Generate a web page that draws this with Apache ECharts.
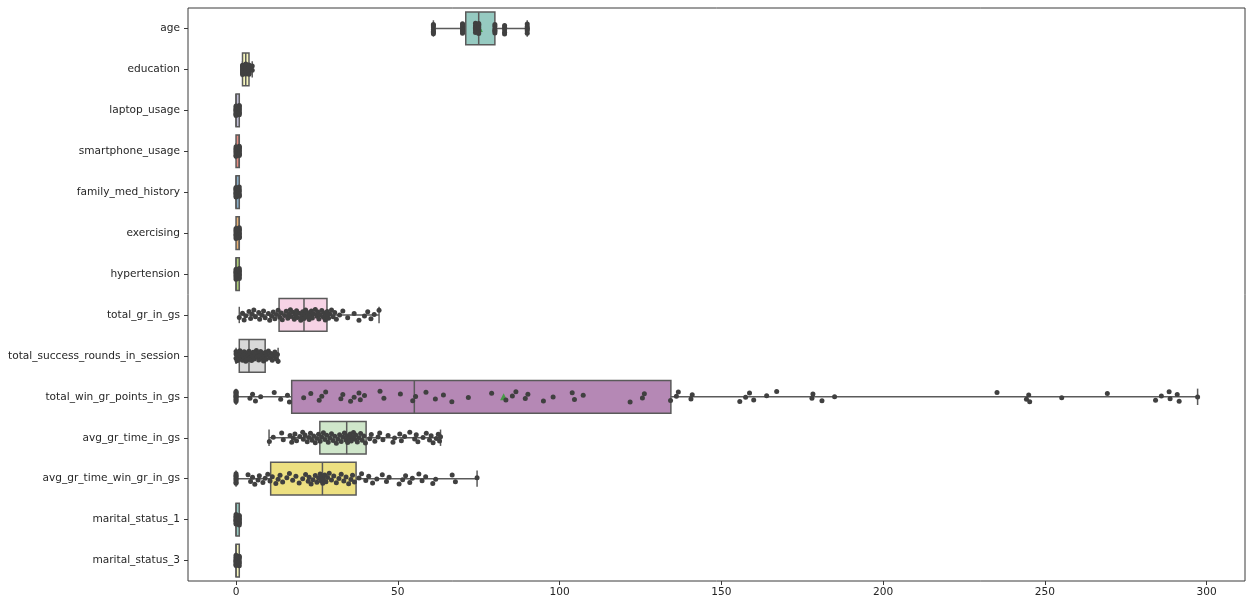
<!DOCTYPE html>
<html>
<head>
<meta charset="utf-8">
<script src="https://cdn.jsdelivr.net/npm/echarts@6/dist/echarts.min.js"></script>
<style>
  html, body { margin: 0; padding: 0; background: #ffffff; }
  #chart { width: 1247px; height: 601px; }
</style>
</head>
<body>
<div id="chart"></div>
<script>
// Feature names, top to bottom
const categories = [
  'age', 'education', 'laptop_usage', 'smartphone_usage', 'family_med_history',
  'exercising', 'hypertension', 'total_gr_in_gs', 'total_success_rounds_in_session',
  'total_win_gr_points_in_gs', 'avg_gr_time_in_gs', 'avg_gr_time_win_gr_in_gs',
  'marital_status_1', 'marital_status_3'
];

// Box statistics per feature: [whisker low, Q1, median, Q3, whisker high]
const boxStats = [
  [61, 71, 75, 80, 90],
  [2, 2, 3, 4, 5],
  [0, 0, 0, 1, 1],
  [0, 0, 1, 1, 1],
  [0, 0, 0, 1, 1],
  [0, 0, 1, 1, 1],
  [0, 0, 0, 1, 1],
  [1, 13.3, 21, 28.1, 44.2],
  [0, 1, 4, 9, 13],
  [0, 17.2, 55.1, 134.4, 297.2],
  [10.2, 25.9, 34.2, 40.2, 63.2],
  [0, 10.7, 26.7, 37.1, 74.5],
  [0, 0, 0, 1, 1],
  [0, 0, 0, 1, 1]
];

// Mean per feature
const means = [75.2, 3.2, 0.45, 0.55, 0.4, 0.5, 0.45, 21.5, 4.6, 82.7, 34.5, 27.0, 0.45, 0.4];

// Box fill colours (Set3, softened)
const boxColors = [
  '#96cac1', '#f6f6bd', '#c1bed6', '#ea8e83', '#8aafc9', '#eab375', '#afcf78',
  '#f6d3e5', '#d9d9d9', '#b588b5', '#cfe6ca', '#ede081', '#96cac1', '#f6f6bd'
];

const xTicks = [0, 50, 100, 150, 200, 250, 300];

// Individual observations per feature
const ageVals = [61, 61, 61, 61, 61, 61, 61, 70, 70, 70, 70, 70, 70, 70, 70, 74, 74, 74, 74, 74, 74,
  75, 75, 75, 75, 75, 75, 75, 75, 75, 80, 80, 80, 80, 80, 80, 83, 83, 83, 83, 83, 90, 90, 90, 90, 90, 90];
const educationVals = [2, 2, 2, 2, 2, 2, 2, 2, 3, 3, 3, 3, 3, 3, 3, 3, 3, 3, 4, 4, 4, 4, 4, 4, 4, 4, 5, 5];
const laptopVals = [0, 0, 0, 0, 0, 0, 0, 0, 0, 0, 1, 1, 1, 1, 1, 1, 1, 1];
const smartphoneVals = [0, 0, 0, 0, 0, 0, 0, 0, 1, 1, 1, 1, 1, 1, 1, 1, 1, 1];
const familyVals = [0, 0, 0, 0, 0, 0, 0, 0, 0, 0, 1, 1, 1, 1, 1, 1];
const exercisingVals = [0, 0, 0, 0, 0, 0, 0, 0, 1, 1, 1, 1, 1, 1, 1, 1, 1];
const hypertensionVals = [0, 0, 0, 0, 0, 0, 0, 0, 0, 1, 1, 1, 1, 1, 1, 1, 1];
const totalGrVals = [1, 2, 2.5, 3, 4, 4.5, 5, 5.5, 6, 7, 7.3, 8, 8.5, 9, 10, 10.4, 11, 11.5, 12, 12.5, 13,
  13.5, 14, 14.3, 15, 15.5, 16, 16.3, 16.8, 17, 17.5, 18, 18.3, 18.7, 19, 19.5, 20, 20.3, 20.6, 21, 21.2,
  21.5, 22, 22.3, 22.6, 23, 23.3, 23.6, 24, 24.5, 25, 25.3, 25.6, 26, 26.5, 27, 27.3, 27.6, 28, 28.2,
  28.6, 29, 29.5, 30, 30.5, 31, 32, 33, 34.5, 36.5, 38, 39.7, 40.7, 41.7, 42.7, 44.2];
const totalSuccessVals = [0, 0, 0, 0.3, 0.5, 0.7, 1, 1, 1.2, 1.5, 1.8, 2, 2.2, 2.5, 2.8, 3, 3, 3.3, 3.6,
  3.8, 4, 4, 4.2, 4.5, 4.8, 5, 5.3, 5.6, 6, 6.3, 6.5, 6.8, 7, 7.3, 7.6, 8, 8.2, 8.5, 8.8, 9, 9.3, 9.6,
  10, 10.4, 10.8, 11.2, 11.6, 12, 12.4, 12.8, 13];
const totalWinVals = [0, 0, 0, 0, 0, 0, 0, 0, 0, 0, 4.3, 5.1, 6, 7.6, 11.8, 13.8, 15.9, 16.5,
  20.9, 23.1, 25.7, 26.5, 27.7, 32.4, 33, 35.4, 36.5, 38, 38.4, 39.7, 44.5, 45.7, 50.8, 54.6,
  55.5, 58.7, 61.6, 64.1, 66.7, 71.8, 79, 83.4, 85.4, 86.5, 89.4, 90.2, 95, 98, 103.9, 104.6, 107.3,
  121.8, 125.6, 126.2, 134.3, 136.1, 136.7, 140.6, 141, 155.7, 157.5, 158.7, 160, 164, 167.1, 178,
  178.3, 181.1, 185, 235.2, 244.3, 245, 245.3, 255.2, 269.3, 284.2, 286, 288.4, 288.7, 290.9, 291.5, 297.2];
const avgGrTimeVals = [10.3, 11.5, 14.1, 14.6, 16.7, 17.2, 17.7, 18.2, 18.7, 19.7, 20.6, 20.8, 21.3,
  22, 22.5, 23, 23.5, 24, 24.5, 25, 25.5, 26, 26.5, 27, 27.5, 28, 28.5, 29, 29.5, 30, 30.5, 31, 31.5,
  32, 32.5, 33, 33.5, 34, 34.2, 34.5, 35, 35.3, 35.6, 36, 36.3, 36.7, 37, 37.5, 38, 38.5, 39, 39.5, 40,
  41.3, 41.8, 42.9, 43.9, 44.4, 45.4, 47, 48.5, 49, 50.6, 51.1, 52.1, 53.7, 55.2, 55.7, 56.2, 57.8,
  58.8, 59.8, 60.3, 60.9, 61.9, 62.5, 62.9, 63.2];
const avgGrTimeWinVals = [0, 0, 0, 0, 0, 0, 0, 0, 3.7, 4.5, 5.1, 5.8, 6.8, 7.2, 8.3, 9, 9.8, 10.5,
  11.2, 12.3, 13, 13.6, 14.4, 15.7, 16.5, 17.5, 18.5, 19.5, 20.6, 21.5, 22.3, 22.6, 23.2, 23.8, 24.5,
  25, 25.5, 26, 26.3, 26.6, 26.8, 27, 27.4, 27.8, 28.3, 28.8, 29.5, 30.2, 31, 31.8, 32.5, 33.3, 34,
  34.8, 35.5, 36, 36.6, 38, 38.8, 40.1, 41, 42.2, 43.5, 45.2, 46.5, 47.3, 50.4, 51.5, 52.4, 53.7, 54.5,
  56.5, 57.5, 58.6, 60.8, 61.7, 66.8, 67.8, 74.5];
const marital1Vals = [0, 0, 0, 0, 0, 0, 0, 0, 0, 1, 1, 1, 1, 1, 1, 1, 1];
const marital3Vals = [0, 0, 0, 0, 0, 0, 0, 0, 0, 0, 1, 1, 1, 1, 1, 1];

const stripValues = [
  ageVals, educationVals, laptopVals, smartphoneVals, familyVals, exercisingVals, hypertensionVals,
  totalGrVals, totalSuccessVals, totalWinVals, avgGrTimeVals, avgGrTimeWinVals, marital1Vals, marital3Vals
];

const edgeColor = '#5a5a5a';
const pointColor = '#404040';
const meanColor = '#2ca02c';
const fontFamily = '"DejaVu Sans", sans-serif';

// Vertical spread of the strip points (pixels), spaced with the golden ratio
const JITTER = 5.5;
function jitterFor(i, row) {
  const t = (i * 0.6180339887 + row * 0.37 + 0.13) % 1;
  return (t - 0.5) * 2 * JITTER;
}

const boxData = boxStats.map((s, i) => [i].concat(s));

const stripData = [];
stripValues.forEach((vals, row) => {
  vals.forEach((v, i) => {
    stripData.push({ value: [v, row], symbolOffset: [0, jitterFor(i, row)] });
  });
});

const meanData = means.map((m, i) => [m, i]);

function renderBox(params, api) {
  const row = api.value(0);
  const pts = [1, 2, 3, 4, 5].map(d => api.coord([api.value(d), row]));
  const band = api.size([0, 1])[1];
  const half = band * 0.4;
  const capHalf = half / 2;
  const y = pts[0][1];
  const ls = { stroke: edgeColor, lineWidth: 1.5, fill: null };
  return {
    type: 'group',
    children: [
      { type: 'line', shape: { x1: pts[0][0], y1: y, x2: pts[1][0], y2: y }, style: ls },
      { type: 'line', shape: { x1: pts[3][0], y1: y, x2: pts[4][0], y2: y }, style: ls },
      { type: 'line', shape: { x1: pts[0][0], y1: y - capHalf, x2: pts[0][0], y2: y + capHalf }, style: ls },
      { type: 'line', shape: { x1: pts[4][0], y1: y - capHalf, x2: pts[4][0], y2: y + capHalf }, style: ls },
      {
        type: 'rect',
        shape: { x: pts[1][0], y: y - half, width: pts[3][0] - pts[1][0], height: 2 * half },
        style: { fill: boxColors[params.dataIndex], stroke: edgeColor, lineWidth: 1.5 }
      },
      { type: 'line', shape: { x1: pts[2][0], y1: y - half, x2: pts[2][0], y2: y + half }, style: ls }
    ]
  };
}

const chart = echarts.init(document.getElementById('chart'), null, { renderer: 'canvas' });
chart.setOption({
  animation: false,
  backgroundColor: '#ffffff',
  grid: {
    left: 188, right: 2, top: 8, bottom: 20,
    show: true, borderColor: '#3a3a3a', borderWidth: 1, backgroundColor: 'transparent'
  },
  xAxis: {
    type: 'value',
    min: -14.85,
    max: 311.85,
    axisLine: { show: false, onZero: false },
    splitLine: { show: false },
    axisTick: { show: true, length: 4, customValues: xTicks, lineStyle: { color: '#3a3a3a' } },
    axisLabel: {
      customValues: xTicks, margin: 6, color: '#262626',
      fontSize: 10.6, fontFamily: fontFamily
    }
  },
  yAxis: {
    type: 'category',
    data: categories,
    inverse: true,
    axisLine: { show: false, onZero: false },
    splitLine: { show: false },
    axisTick: { show: true, alignWithLabel: true, length: 4, lineStyle: { color: '#3a3a3a' } },
    axisLabel: { margin: 8, color: '#262626', fontSize: 10.6, fontFamily: fontFamily }
  },
  series: [
    {
      type: 'custom',
      renderItem: renderBox,
      encode: { x: [1, 2, 3, 4, 5], y: 0 },
      data: boxData,
      z: 2,
      silent: true
    },
    {
      type: 'scatter',
      data: meanData,
      symbol: 'triangle',
      symbolSize: 7,
      itemStyle: { color: meanColor },
      z: 3,
      silent: true
    },
    {
      type: 'scatter',
      data: stripData,
      symbol: 'circle',
      symbolSize: 5,
      itemStyle: { color: pointColor, opacity: 1 },
      z: 4,
      silent: true
    }
  ]
});
</script>
</body>
</html>
